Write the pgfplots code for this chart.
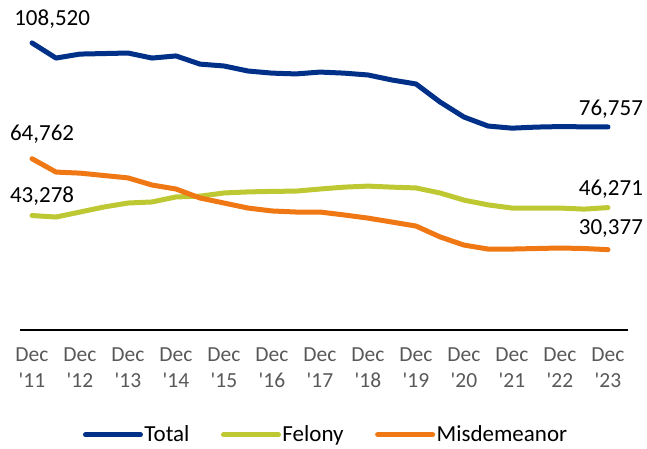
\documentclass[border=0pt]{standalone}
\usepackage{fontspec}
\setmainfont{Carlito}
\newfontfamily\cf{Carlito}
\usepackage{pgfplots}
\pgfplotsset{compat=1.18}
\definecolor{ctotal}{RGB}{0,48,135}
\definecolor{cfel}{RGB}{190,200,50}
\definecolor{cmis}{RGB}{240,120,20}
\definecolor{tgray}{RGB}{89,89,89}
\begin{document}
\begin{tikzpicture}
\begin{axis}[
  at={(20pt,-330pt)}, anchor=south west,
  scale only axis, width=608pt, height=320pt,
  xmin=-0.25, xmax=12.417, ymin=0, ymax=120960,
  axis x line=bottom, axis y line=none,
  axis line style={black, line width=1.6pt, -},
  major tick length=0pt,
  xtick={0,...,12},
  xticklabels={Dec\\'11,Dec\\'12,Dec\\'13,Dec\\'14,Dec\\'15,Dec\\'16,Dec\\'17,Dec\\'18,Dec\\'19,Dec\\'20,Dec\\'21,Dec\\'22,Dec\\'23},
  xticklabel style={align=center, text=tgray, font=\cf\fontsize{21.5pt}{26.5pt}\selectfont, yshift=-14pt},
  ytick=\empty,
  clip=false,
  legend columns=3,
  legend style={draw=none, fill=none, at={(0.503,-0.327)}, anchor=center,
    font=\cf\fontsize{23pt}{27pt}\selectfont, nodes={inner sep=1.5pt},
    /tikz/every even column/.append style={column sep=30pt}},
  legend image code/.code={\draw[#1] (0pt,0pt) -- (55pt,0pt);},
  every axis plot/.append style={line width=5pt, line join=round, line cap=round},
]
\addplot[ctotal] coordinates {
(0,108520) (0.5,102800) (1,104300) (1.5,104500) (2,104700) (2.5,102800) (3,103600)
(3.5,100500) (4,99800) (4.5,97900) (5,97100) (5.5,96800) (6,97500) (6.5,97100)
(7,96400) (7.5,94500) (8,93000) (8.5,86200) (9,80500) (9.5,77100) (10,76300)
(10.5,76700) (11,76900) (11.5,76800) (12,76757)};
\addlegendentry{Total}
\addplot[cfel] coordinates {
(0,43278) (0.5,42700) (1,44600) (1.5,46500) (2,48000) (2.5,48400) (3,50300)
(3.5,50600) (4,51800) (4.5,52200) (5,52400) (5.5,52500) (6,53300) (6.5,54000)
(7,54400) (7.5,54000) (8,53700) (8.5,51800) (9,49100) (9.5,47300) (10,46100)
(10.5,46100) (11,46100) (11.5,45700) (12,46271)};
\addlegendentry{Felony}
\addplot[cmis] coordinates {
(0,64762) (0.5,59700) (1,59300) (1.5,58400) (2,57500) (2.5,54800) (3,53300)
(3.5,49900) (4,48000) (4.5,46100) (5,45000) (5.5,44600) (6,44600) (6.5,43500)
(7,42300) (7.5,40800) (8,39300) (8.5,35200) (9,32100) (9.5,30600) (10,30600)
(10.5,30800) (11,31000) (11.5,30800) (12,30377)};
\addlegendentry{Misdemeanor}
\begin{scope}[every node/.style={font=\cf\fontsize{23pt}{27pt}\selectfont, inner sep=0pt}]
\node at (axis cs:0.42,117600) {108,520};
\node at (axis cs:0.21,74200) {64,762};
\node at (axis cs:0.21,50700) {43,278};
\node at (axis cs:12.06,83600) {76,757};
\node at (axis cs:12.06,53400) {46,271};
\node at (axis cs:12.06,38300) {30,377};
\end{scope}
\end{axis}
\pgfresetboundingbox
\useasboundingbox (0,0) rectangle (647pt,-448pt);
\end{tikzpicture}
\end{document}
